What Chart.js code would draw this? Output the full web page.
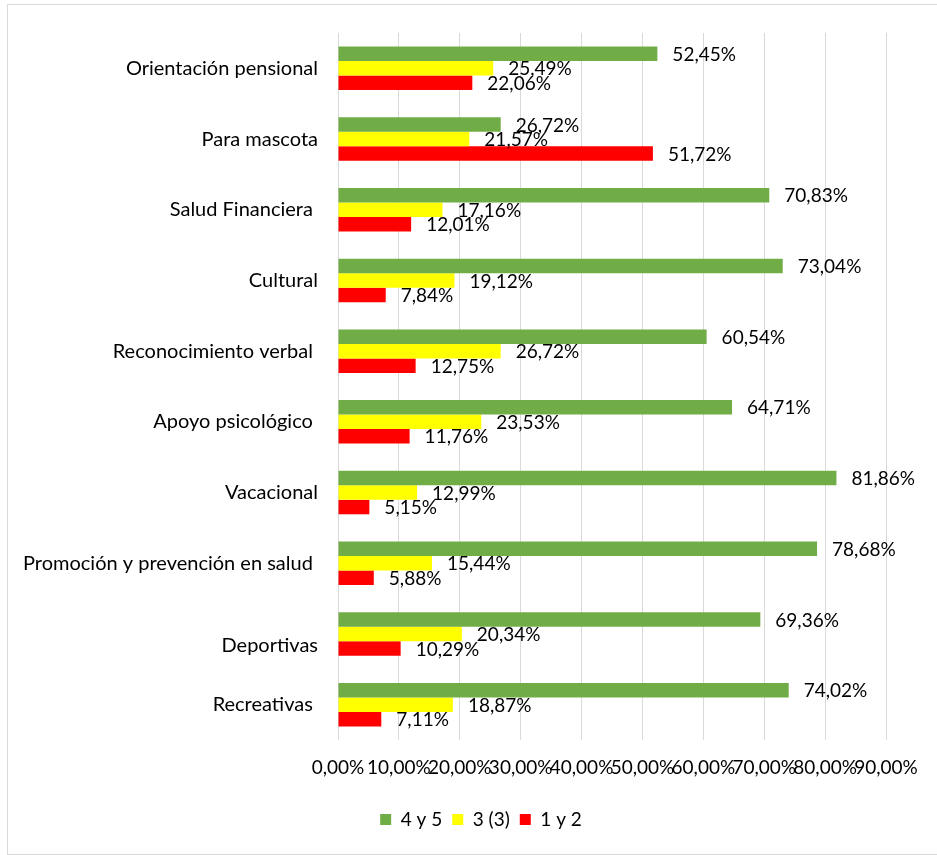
<!DOCTYPE html>
<html>
<head>
<meta charset="utf-8">
<script src="https://cdn.jsdelivr.net/npm/chart.js@4.4.0/dist/chart.umd.min.js"></script>
<style>
  html, body { margin: 0; padding: 0; background: #fff; }
  #marco { position: absolute; left: 7px; top: 4px; width: 935px; height: 849px; border: 1px solid #d9d9d9; }
  #caja { position: absolute; left: 0; top: 0; width: 937px; height: 855px; }
</style>
</head>
<body>
<div id="marco"></div>
<div id="caja"><canvas id="graficoBeneficios"></canvas></div>
<script>
const categorias = [
    'Orientación pensional',
    'Para mascota',
    'Salud Financiera ',
    'Cultural',
    'Reconocimiento verbal ',
    'Apoyo psicológico ',
    'Vacacional',
    'Promoción y prevención en salud ',
    'Deportivas',
    'Recreativas '
];
const valores45 = [52.45, 26.72, 70.83, 73.04, 60.54, 64.71, 81.86, 78.68, 69.36, 74.02];
const valores3 = [25.49, 21.57, 17.16, 19.12, 26.72, 23.53, 12.99, 15.44, 20.34, 18.87];
const valores12 = [22.06, 51.72, 12.01, 7.84, 12.75, 11.76, 5.15, 5.88, 10.29, 7.11];
const ticksX = [0, 10, 20, 30, 40, 50, 60, 70, 80, 90];

const fuente = 'Lato, "Liberation Sans", sans-serif';

function porcentaje(v) {
    return v.toFixed(2).replace('.', ',') + '%';
}

// etiquetas de valor a la derecha de cada barra
const etiquetasBarras = {
    id: 'etiquetasBarras',
    afterDatasetsDraw(chart) {
        const ctx = chart.ctx;
        ctx.save();
        ctx.font = '19px ' + fuente;
        ctx.fillStyle = '#000';
        ctx.textAlign = 'left';
        ctx.textBaseline = 'middle';
        chart.data.datasets.forEach((ds, i) => {
            const meta = chart.getDatasetMeta(i);
            meta.data.forEach((bar, j) => {
                ctx.fillText(porcentaje(ds.data[j]), bar.x + 15, bar.y + 1);
            });
        });
        ctx.restore();
    }
};

// la leyenda va centrada en todo el gráfico, no sólo en el área
const moverLeyenda = {
    id: 'moverLeyenda',
    afterLayout(chart) {
        if (chart.legend) chart.legend.left += 66;
    }
};

Chart.defaults.font.family = fuente;
Chart.defaults.color = '#000';

const ctx = document.getElementById('graficoBeneficios').getContext('2d');
const grafico = new Chart(ctx, {
    type: 'bar',
    data: {
        labels: categorias,
        datasets: [
            { label: '4 y 5', data: valores45, backgroundColor: '#70ad47' },
            { label: '3 (3)', data: valores3, backgroundColor: '#ffff00' },
            { label: '1 y 2', data: valores12, backgroundColor: '#ff0000' }
        ]
    },
    options: {
        indexAxis: 'y',
        responsive: true,
        maintainAspectRatio: false,
        animation: false,
        categoryPercentage: 0.615,
        barPercentage: 1,
        layout: {
            padding: { left: 10, right: 51, top: 33, bottom: 16 }
        },
        plugins: {
            legend: {
                position: 'bottom',
                labels: {
                    boxWidth: 11,
                    boxHeight: 11,
                    padding: 10,
                    font: { size: 19 }
                }
            },
            tooltip: { enabled: false }
        },
        scales: {
            x: {
                min: 0,
                max: 90,
                afterBuildTicks: scale => {
                    scale.ticks = ticksX.map(v => ({ value: v }));
                },
                afterFit: scale => { scale.height = 60; },
                grid: { color: '#d9d9d9', drawTicks: false },
                border: { display: false },
                ticks: {
                    padding: 16,
                    maxRotation: 0,
                    autoSkip: false,
                    font: { size: 19 },
                    callback: v => porcentaje(v)
                }
            },
            y: {
                afterFit: scale => { scale.width = 328; },
                grid: { display: false, drawTicks: false },
                border: { display: false },
                ticks: {
                    padding: 20,
                    font: { size: 20 },
                    callback: function (v) {
                        const txt = this.getLabelForValue(v);
                        return txt === 'Deportivas' ? ['', txt] : txt;
                    }
                }
            }
        }
    },
    plugins: [etiquetasBarras, moverLeyenda]
});
</script>
</body>
</html>
